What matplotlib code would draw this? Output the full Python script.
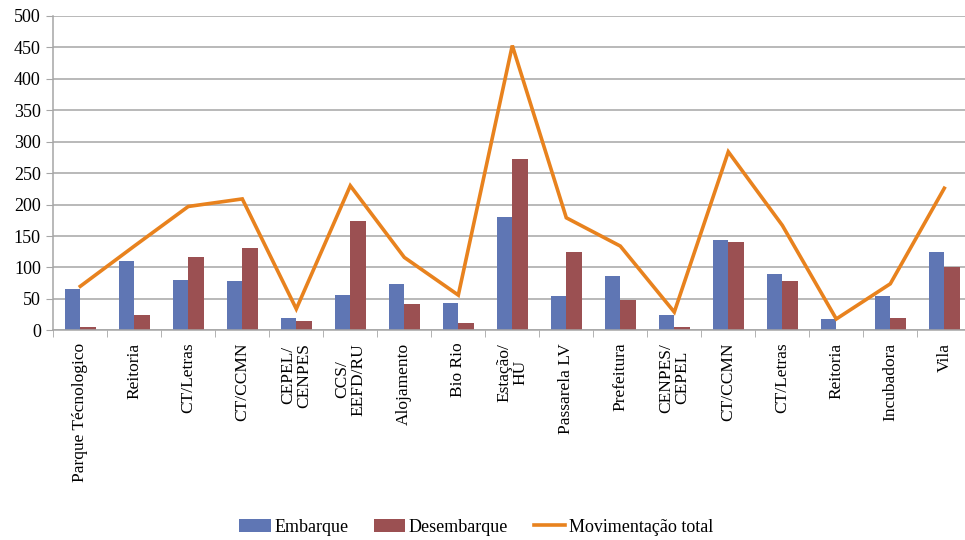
import numpy as np
import matplotlib
matplotlib.use("Agg")
import matplotlib.pyplot as plt

# boarding / alighting counts per stop along the route
paradas = ["Parque Técnologico", "Reitoria", "CT/Letras", "CT/CCMN", "CEPEL/\nCENPES",
           "CCS/\nEEFD/RU", "Alojamento", "Bio Rio", "Estação/\nHU", "Passarela LV",
           "Prefeitura", "CENPES/\nCEPEL", "CT/CCMN", "CT/Letras", "Reitoria",
           "Incubadora", "Vila"]
embarque = [65, 110, 80, 78, 20, 56, 74, 44, 180, 54, 86, 24, 144, 89, 18, 54, 125]
desembarque = [5, 24, 117, 131, 14, 174, 42, 12, 273, 125, 48, 5, 140, 78, 0, 20, 101]
yticks = [0, 50, 100, 150, 200, 250, 300, 350, 400, 450, 500]

total = np.array(embarque) + np.array(desembarque)

plt.rcParams['font.family'] = ['Liberation Serif', 'DejaVu Serif']

cor_emb = '#5F76B4'
cor_des = '#9B5052'
cor_tot = '#E8821E'
cinza = '#A6A6A6'

fig = plt.figure(figsize=(9.65, 5.4), dpi=100)
ax = fig.add_axes([53.3 / 965, 1 - 330.3 / 540, 918 / 965, 314.3 / 540])

x = np.arange(len(paradas))
w = 0.284
b1 = ax.bar(x - w / 2, embarque, w, color=cor_emb, label='Embarque', zorder=2)
b2 = ax.bar(x + w / 2, desembarque, w, color=cor_des, label='Desembarque', zorder=2)
l1, = ax.plot(x, total, color=cor_tot, lw=2.6, solid_joinstyle='miter',
              label='Movimentação total', zorder=3)

ax.set_xlim(-0.5, len(paradas) - 0.5)
ax.set_ylim(0, 500)
ax.set_yticks(yticks)
ax.yaxis.grid(True, color=cinza, lw=1.1, zorder=0)
ax.set_axisbelow(True)

for s in ['top', 'right']:
    ax.spines[s].set_visible(False)
for s in ['left', 'bottom']:
    ax.spines[s].set_color(cinza)
    ax.spines[s].set_linewidth(1.1)

ax.tick_params(axis='y', length=5, color=cinza, labelsize=13, pad=4)
ax.set_xticks(x)
ax.set_xticklabels(paradas, rotation=90, fontsize=12.5, va='top', ha='center',
                   multialignment='center', linespacing=0.95)
ax.tick_params(axis='x', length=0, pad=9)
ax.set_xticks(np.arange(-0.5, len(paradas), 1), minor=True)
ax.tick_params(axis='x', which='minor', length=5, color=cinza)

ax.legend([b1, b2, l1], ['Embarque', 'Desembarque', 'Movimentação total'],
          loc='center', bbox_to_anchor=(476 / 965, 13 / 540), bbox_transform=fig.transFigure,
          ncol=3, frameon=False, fontsize=13, handlelength=1.75, handleheight=0.7,
          columnspacing=1.4, handletextpad=0.2)

fig.savefig('out.png', dpi=100)
